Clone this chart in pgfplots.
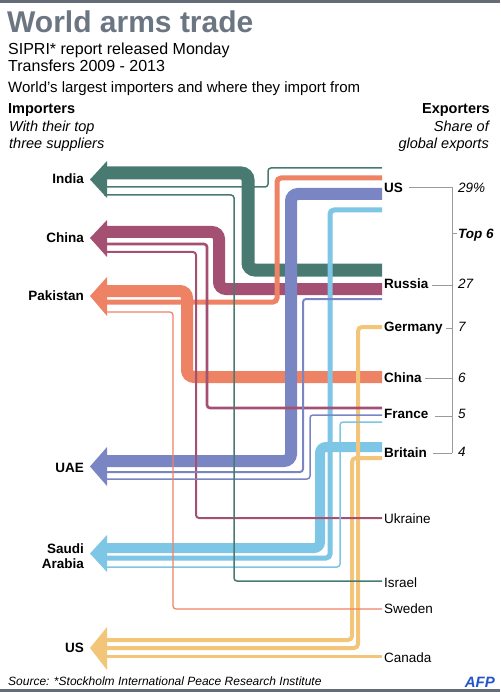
\documentclass[border=0pt]{standalone}
\usepackage{pgfplots}
\pgfplotsset{compat=1.18}
\usepackage{fontspec}
\setmainfont{Liberation Sans}
\definecolor{cIndia}{RGB}{72,122,114}
\definecolor{cChina}{RGB}{164,80,114}
\definecolor{cPak}{RGB}{238,130,100}
\definecolor{cUAE}{RGB}{122,134,196}
\definecolor{cSaudi}{RGB}{125,198,230}
\definecolor{cUS}{RGB}{242,197,120}
\definecolor{titlegray}{RGB}{108,117,130}
\definecolor{bargray}{RGB}{100,108,120}
\definecolor{brk}{RGB}{155,155,155}
\definecolor{afp}{RGB}{35,85,200}
\newcommand{\fs}[1]{\fontsize{#1}{#1}\selectfont}
\begin{document}
\begin{tikzpicture}
\begin{axis}[x=1pt,y=1pt,y dir=reverse,xmin=0,xmax=500,ymin=0,ymax=692,
  hide axis,clip=false,no markers]
% background and bars
\addplot[fill=white,draw=none] coordinates {(0,0)(500,0)(500,692)(0,692)} -- cycle;
\addplot[fill=bargray,draw=none] coordinates {(0,0)(500,0)(500,3)(0,3)} -- cycle;
\addplot[fill=bargray,draw=none] coordinates {(0,688.5)(500,688.5)(500,692)(0,692)} -- cycle;

% ---------- thick lines ----------
\addplot[cIndia,line width=13pt,rounded corners=7pt] coordinates {(104,173)(248,173)(248,270)(382,270)};
\addplot[cChina,line width=12pt,rounded corners=7pt] coordinates {(104,232)(219,232)(219,289)(382,289)};
\addplot[cPak,line width=12pt,rounded corners=7pt] coordinates {(104,291)(187,291)(187,377)(382,377)};
\addplot[cUAE,line width=12pt,rounded corners=7pt] coordinates {(104,461)(291,461)(291,194)(382,194)};
\addplot[cSaudi,line width=10pt,rounded corners=6pt] coordinates {(104,548)(320,548)(320,447)(382,447)};
% ---------- medium lines ----------
\addplot[cPak,line width=5pt,rounded corners=4pt] coordinates {(104,302)(277,302)(277,178)(382,178)};
\addplot[cSaudi,line width=5pt,rounded corners=4pt] coordinates {(104,558)(330,558)(330,210)(382,210)};
\addplot[cUS,line width=4pt,rounded corners=4pt] coordinates {(104,648)(358,648)(358,327)(382,327)};
\addplot[cUS,line width=4pt,rounded corners=4pt] coordinates {(104,640)(352,640)(352,458)(382,458)};
\addplot[cUS,line width=3pt] coordinates {(104,656)(382,656)};
% ---------- thin lines ----------
\addplot[cChina,line width=2.6pt,rounded corners=3pt] coordinates {(104,244)(207,244)(207,408)(382,408)};
\addplot[cChina,line width=2pt,rounded corners=3pt] coordinates {(104,252)(196,252)(196,518)(382,518)};
\addplot[cUAE,line width=2pt,rounded corners=3pt] coordinates {(104,472)(303,472)(303,299)(382,299)};
\addplot[cUAE,line width=1.5pt,rounded corners=3pt] coordinates {(104,479)(310,479)(310,415)(382,415)};
\addplot[cSaudi,line width=1.5pt,rounded corners=3pt] coordinates {(104,567)(340,567)(340,422)(382,422)};
\addplot[cIndia,line width=1.5pt,rounded corners=3pt] coordinates {(104,187)(268,187)(268,168)(382,168)};
\addplot[cIndia,line width=1.5pt,rounded corners=3pt] coordinates {(104,195)(234,195)(234,581)(382,581)};
\addplot[cPak,line width=1.2pt,rounded corners=3pt] coordinates {(104,312)(173,312)(173,609)(382,609)};

% ---------- arrow heads ----------
\addplot[fill=cIndia,draw=none] coordinates {(107,161)(90,179.5)(107,198)} -- cycle;
\addplot[fill=cChina,draw=none] coordinates {(107,220)(90,238)(107,257)} -- cycle;
\addplot[fill=cPak,draw=none] coordinates {(107,277)(90,296)(107,316)} -- cycle;
\addplot[fill=cUAE,draw=none] coordinates {(107,447)(90,466.5)(107,486)} -- cycle;
\addplot[fill=cSaudi,draw=none] coordinates {(107,535)(90,553.5)(107,572)} -- cycle;
\addplot[fill=cUS,draw=none] coordinates {(107,627)(90,648)(107,670)} -- cycle;

% ---------- bracket ----------
\addplot[brk,line width=0.8pt] coordinates {(452,187)(452,453)};
\addplot[brk,line width=0.8pt] coordinates {(409,187)(452,187)};
\addplot[brk,line width=0.8pt] coordinates {(432,285)(452,285)};
\addplot[brk,line width=0.8pt] coordinates {(446,328)(452,328)};
\addplot[brk,line width=0.8pt] coordinates {(425,378)(452,378)};
\addplot[brk,line width=0.8pt] coordinates {(435,416)(452,416)};
\addplot[brk,line width=0.8pt] coordinates {(433,453)(452,453)};
\addplot[brk,line width=0.8pt] coordinates {(452,233)(457,233)};

% ---------- titles ----------
\node[anchor=base west,inner sep=0,text=titlegray,font=\bfseries\fs{30}] at (axis cs:7,33) {World arms trade};
\node[anchor=base west,inner sep=0,font=\fs{16}] at (axis cs:8,55) {SIPRI* report released Monday};
\node[anchor=base west,inner sep=0,font=\fs{16}] at (axis cs:8,72) {Transfers 2009 - 2013};
\node[anchor=base west,inner sep=0,font=\fs{15}] at (axis cs:8,93) {World’s largest importers and where they import from};
\node[anchor=base west,inner sep=0,font=\bfseries\fs{14.5}] at (axis cs:8,114) {Importers};
\node[anchor=base west,inner sep=0,font=\itshape\fs{14.5}] at (axis cs:9,132) {With their top};
\node[anchor=base west,inner sep=0,font=\itshape\fs{14.5}] at (axis cs:9,149) {three suppliers};
\node[anchor=base east,inner sep=0,font=\bfseries\fs{14.5}] at (axis cs:490,114) {Exporters};
\node[anchor=base east,inner sep=0,font=\itshape\fs{14.5}] at (axis cs:489,132) {Share of};
\node[anchor=base east,inner sep=0,font=\itshape\fs{14.5}] at (axis cs:489,149) {global exports};

% ---------- importer labels ----------
\node[anchor=base east,inner sep=0,font=\bfseries\fs{13.5}] at (axis cs:84,184) {India};
\node[anchor=base east,inner sep=0,font=\bfseries\fs{13.5}] at (axis cs:84,243) {China};
\node[anchor=base east,inner sep=0,font=\bfseries\fs{13.5}] at (axis cs:84,300) {Pakistan};
\node[anchor=base east,inner sep=0,font=\bfseries\fs{13.5}] at (axis cs:84,472) {UAE};
\node[anchor=base east,inner sep=0,font=\bfseries\fs{13.5}] at (axis cs:84,553) {Saudi};
\node[anchor=base east,inner sep=0,font=\bfseries\fs{13.5}] at (axis cs:84,568) {Arabia};
\node[anchor=base east,inner sep=0,font=\bfseries\fs{13.5}] at (axis cs:84,652) {US};

% ---------- exporter labels ----------
\node[anchor=base west,inner sep=0,font=\bfseries\fs{13.5}] at (axis cs:384,193) {US};
\node[anchor=base west,inner sep=0,font=\bfseries\fs{13.5}] at (axis cs:384,288) {Russia};
\node[anchor=base west,inner sep=0,font=\bfseries\fs{13.5}] at (axis cs:384,331) {Germany};
\node[anchor=base west,inner sep=0,font=\bfseries\fs{13.5}] at (axis cs:384,382) {China};
\node[anchor=base west,inner sep=0,font=\bfseries\fs{13.5}] at (axis cs:384,418) {France};
\node[anchor=base west,inner sep=0,font=\bfseries\fs{13.5}] at (axis cs:384,457) {Britain};
\node[anchor=base west,inner sep=0,font=\fs{13.5}] at (axis cs:384,523) {Ukraine};
\node[anchor=base west,inner sep=0,font=\fs{13.5}] at (axis cs:384,587) {Israel};
\node[anchor=base west,inner sep=0,font=\fs{13.5}] at (axis cs:384,613) {Sweden};
\node[anchor=base west,inner sep=0,font=\fs{13.5}] at (axis cs:384,662) {Canada};

% ---------- shares ----------
\node[anchor=base west,inner sep=0,font=\itshape\fs{13.5}] at (axis cs:458,193) {29\%};
\node[anchor=base west,inner sep=0,font=\bfseries\itshape\fs{13.5}] at (axis cs:458,239) {Top 6};
\node[anchor=base west,inner sep=0,font=\itshape\fs{13.5}] at (axis cs:458,288) {27};
\node[anchor=base west,inner sep=0,font=\itshape\fs{13.5}] at (axis cs:458,331) {7};
\node[anchor=base west,inner sep=0,font=\itshape\fs{13.5}] at (axis cs:458,382) {6};
\node[anchor=base west,inner sep=0,font=\itshape\fs{13.5}] at (axis cs:458,418) {5};
\node[anchor=base west,inner sep=0,font=\itshape\fs{13.5}] at (axis cs:458,456) {4};

% ---------- footer ----------
\node[anchor=base west,inner sep=0,font=\itshape\fs{12}] at (axis cs:8,685) {Source: *Stockholm International Peace Research Institute};
\node[anchor=base east,inner sep=0,text=afp,font=\bfseries\itshape\fs{15}] at (axis cs:495,687) {AFP};
\end{axis}
\end{tikzpicture}
\end{document}
